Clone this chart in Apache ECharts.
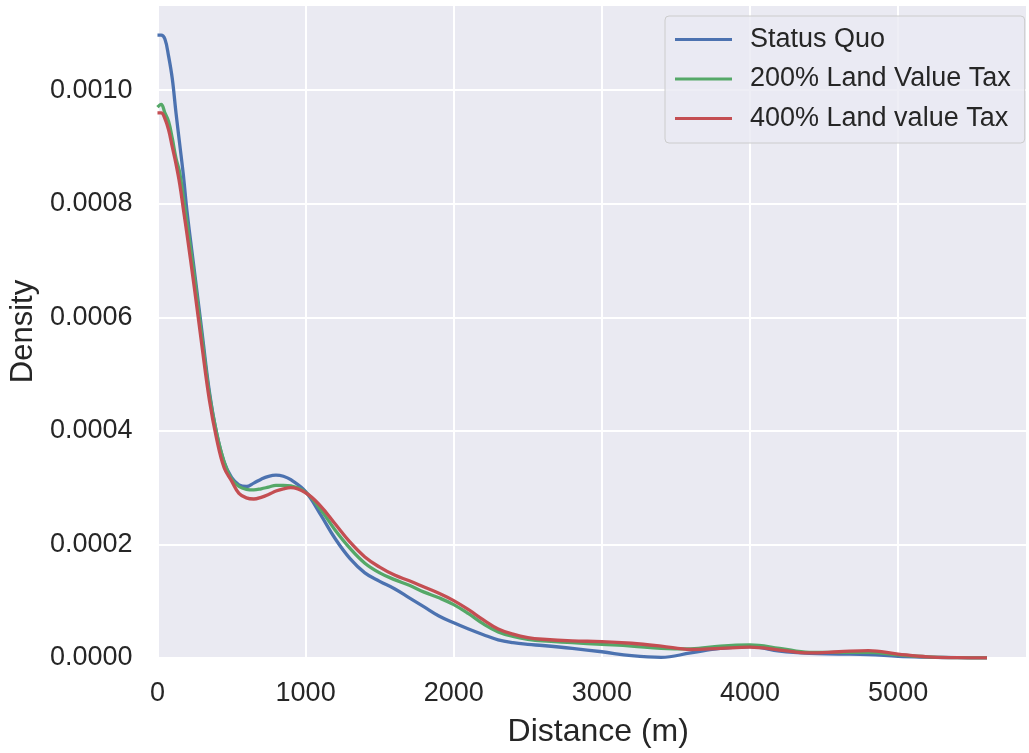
<!DOCTYPE html>
<html>
<head>
<meta charset="utf-8">
<script src="https://cdn.jsdelivr.net/npm/echarts@6/dist/echarts.min.js"></script>
<style>
  html, body { margin: 0; padding: 0; background: #fff; }
  #chart { width: 1029px; height: 753px; }
</style>
</head>
<body>
<div id="chart"></div>
<script>
// distance (m) at which the density curves were read
const distances = [0, 25, 50, 75, 100, 125, 150, 175, 200, 250, 300, 350, 400, 450, 500, 550, 600, 650, 700, 750, 800, 850, 900, 1000,
  1100, 1200, 1300, 1400, 1500, 1600, 1700, 1800, 1900, 2000, 2100, 2200, 2300, 2400, 2500, 2600, 2800, 3000,
  3200, 3400, 3600, 3800, 4000, 4200, 4400, 4600, 4800, 5000, 5200, 5400, 5600];

const statusQuo = [0.001097, 0.001097, 0.00109, 0.00106, 0.00102, 0.00096, 0.000905, 0.00085, 0.000785, 0.00068, 0.000575, 0.00047, 0.000395, 0.000345, 0.000318, 0.000305, 0.000302, 0.000308, 0.000315, 0.00032, 0.000322, 0.00032, 0.000314, 0.000293,
  0.000253, 0.00021, 0.000175, 0.00015, 0.000135, 0.000122, 0.000106, 0.00009, 0.000074, 0.000062, 0.000051, 0.000041, 0.000032, 0.000027, 0.000024, 0.000022, 0.000017, 0.000011,
  0.000004, 0.000001, 0.000009, 0.000017, 0.00002, 0.000012, 0.000008, 0.000007, 0.000006, 0.000003, 0.0000015, 0.0000005, 0.0000001];

const lvt200 = [0.00097, 0.000975, 0.00096, 0.000945, 0.000915, 0.00088, 0.000855, 0.00081, 0.000765, 0.00067, 0.000565, 0.000465, 0.000395, 0.000345, 0.000315, 0.000302, 0.000297, 0.000296, 0.000298, 0.000301, 0.000304, 0.000304, 0.000303, 0.000292,
  0.000262, 0.000225, 0.000193, 0.000167, 0.00015, 0.000138, 0.000128, 0.000116, 0.000106, 0.000094, 0.000078, 0.00006, 0.000046, 0.000038, 0.000033, 0.00003, 0.000027, 0.000024,
  0.000021, 0.000017, 0.000016, 0.000021, 0.000023, 0.000017, 0.00001, 0.00001, 0.00001, 0.0000055, 0.000002, 0.0000006, 0.0000001];

const lvt400 = [0.00096, 0.00096, 0.00095, 0.00093, 0.0009, 0.00087, 0.000835, 0.00079, 0.000745, 0.00065, 0.00055, 0.000455, 0.000385, 0.000335, 0.000312, 0.00029, 0.000282, 0.00028, 0.000283, 0.000288, 0.000294, 0.000298, 0.0003, 0.000291,
  0.000268, 0.000236, 0.000204, 0.000178, 0.00016, 0.000146, 0.000136, 0.000125, 0.000114, 0.000101, 0.000085, 0.000067, 0.000051, 0.000042, 0.000036, 0.000033, 0.00003, 0.000029,
  0.000026, 0.000021, 0.000015, 0.000017, 0.000019, 0.000014, 0.000009, 0.000011, 0.000013, 0.000007, 0.000002, 0.0000006, 0.0000001];

const seriesNames = ['Status Quo', '200% Land Value Tax', '400% Land value Tax'];
const seriesColors = ['#4C72B0', '#55A868', '#C44E52'];

const FONT = '"Liberation Sans", Arial, sans-serif';
const TEXT = '#262626';

function pairs(vals) {
  return distances.map((d, i) => [d, vals[i]]);
}

let chart = echarts.init(document.getElementById('chart'));

chart.setOption({
  backgroundColor: '#ffffff',
  animation: false,
  grid: {
    left: 155.5,
    right: 2,
    top: 5,
    bottom: 90.5,
    show: true,
    backgroundColor: '#EAEAF2',
    borderWidth: 0
  },
  legend: {
    orient: 'vertical',
    left: 665,
    top: 16,
    padding: [8, 14, 9, 10],
    icon: 'rect',
    itemWidth: 57,
    itemHeight: 3,
    itemGap: 8.5,
    backgroundColor: 'rgba(234,234,242,0.8)',
    borderColor: '#CCCCCC',
    borderWidth: 1,
    borderRadius: 4,
    textStyle: { fontFamily: FONT, fontSize: 27, color: TEXT, lineHeight: 31, padding: [0, 0, 0, 13] },
    data: seriesNames
  },
  xAxis: {
    type: 'value',
    min: 0,
    max: 5870,
    interval: 1000,
    name: 'Distance (m)',
    nameLocation: 'middle',
    nameGap: 58,
    nameTextStyle: { fontFamily: FONT, fontSize: 32, color: TEXT, padding: [0, 0, 0, 12] },
    axisLine: { show: false },
    axisTick: { show: false },
    axisLabel: {
      fontFamily: FONT, fontSize: 27, color: TEXT, margin: 22, showMaxLabel: false,
      formatter: v => String(v)
    },
    splitLine: { show: true, lineStyle: { color: '#ffffff', width: 2 } }
  },
  yAxis: {
    type: 'value',
    min: 0,
    max: 0.00115,
    interval: 0.0002,
    name: 'Density',
    nameLocation: 'middle',
    nameGap: 118,
    nameTextStyle: { fontFamily: FONT, fontSize: 31, color: TEXT },
    axisLine: { show: false },
    axisTick: { show: false },
    axisLabel: {
      fontFamily: FONT, fontSize: 27, color: TEXT, margin: 25, showMaxLabel: false,
      formatter: v => v.toFixed(4)
    },
    splitLine: { show: true, lineStyle: { color: '#ffffff', width: 2 } }
  },
  series: [statusQuo, lvt200, lvt400].map((vals, i) => ({
    name: seriesNames[i],
    type: 'line',
    data: pairs(vals),
    smooth: 0.4,
    symbol: 'none',
    color: seriesColors[i],
    lineStyle: { width: 3.3, color: seriesColors[i] }
  }))
});
</script>
</body>
</html>
